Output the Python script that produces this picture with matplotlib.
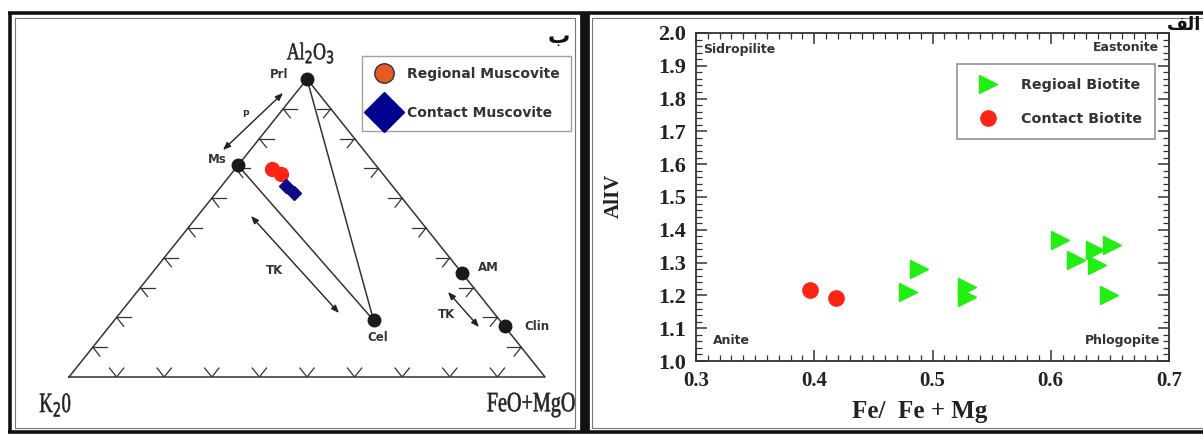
import matplotlib
matplotlib.use("Agg")
import matplotlib.pyplot as plt
from matplotlib.lines import Line2D
from matplotlib.ticker import MultipleLocator
from matplotlib.textpath import TextPath
from matplotlib.patches import PathPatch
from matplotlib.font_manager import FontProperties
from matplotlib.transforms import Affine2D
import numpy as np

# ---------------------------
# Data
# ---------------------------

# ternary (Al2O3 / K2O / FeO+MgO), fractions of Al2O3 and FeO+MgO
mineral_names = ["Prl", "Ms", "Cel", "AM", "Clin"]
mineral_al2o3 = [1.00, 0.71, 0.19, 0.35, 0.17]
mineral_feomgo = [0.00, 0.00, 0.545, 0.65, 0.83]

regional_musc_al2o3 = [0.698, 0.681]
regional_musc_feomgo = [0.077, 0.105]
contact_musc_al2o3 = [0.641, 0.617]
contact_musc_feomgo = [0.136, 0.165]

# biotite classification  (Fe/(Fe+Mg) vs AlIV)
regional_bt_fe = [0.489, 0.479, 0.529, 0.529, 0.608, 0.621, 0.637, 0.652, 0.639, 0.649]
regional_bt_aliv = [1.280, 1.210, 1.226, 1.195, 1.369, 1.308, 1.338, 1.354, 1.293, 1.201]
contact_bt_fe = [0.396, 0.418]
contact_bt_aliv = [1.216, 1.192]

x_tick_values = [0.3, 0.4, 0.5, 0.6, 0.7]
x_tick_labels = ["0.3", "0.4", "0.5", "0.6", "0.7"]
y_tick_values = [1.0, 1.1, 1.2, 1.3, 1.4, 1.5, 1.6, 1.7, 1.8, 1.9, 2.0]
y_tick_labels = ["1.0", "1.1", "1.2", "1.3", "1.4", "1.5", "1.6", "1.7", "1.8", "1.9", "2.0"]


def tern(al, fm):
    """ternary -> cartesian (base 0..1, height 0..1)"""
    al = np.asarray(al, dtype=float)
    fm = np.asarray(fm, dtype=float)
    return fm + al / 2.0, al


W, H = 1203, 436
fig = plt.figure(figsize=(W / 100, H / 100), dpi=100)
fig.patch.set_facecolor("white")


def px_box(x0, y0, x1, y1):
    return [x0 / W, (H - y1) / H, (x1 - x0) / W, (y1 - y0) / H]


# ---- background axes in pixel units, for frames / annotations ----
bg = fig.add_axes([0, 0, 1, 1], zorder=0)
bg.set_xlim(0, W)
bg.set_ylim(H, 0)
bg.axis("off")


def condensed_text(x, y, s, size_px, sx=0.72, color="#222222"):
    """narrow serif label (the original uses a condensed face)"""
    tp = TextPath((0, 0), s, size=size_px, prop=FontProperties(family="Liberation Serif"))
    bb = tp.get_extents()
    tr = (Affine2D().translate(-(bb.x0 + bb.x1) / 2, -(bb.y0 + bb.y1) / 2)
          .scale(sx, -1).translate(x, y))
    bg.add_patch(PathPatch(tr.transform_path(tp), facecolor=color, edgecolor=color, lw=0.4))


dark = "#111111"
bg.plot([8, W], [13, 13], color=dark, lw=2.6, solid_capstyle="butt")
bg.plot([8, W], [432, 432], color=dark, lw=2.6, solid_capstyle="butt")
bg.plot([10, 10], [13, 432], color=dark, lw=2.6, solid_capstyle="butt")
bg.plot([585, 585], [13, 432], color=dark, lw=7.0, solid_capstyle="butt")
# thin inner frames
bg.plot([15, 575, 575, 15, 15], [18, 18, 428, 428, 18], color="#777777", lw=0.8)
bg.plot([W, 592, 592, W], [18, 18, 428, 428], color="#777777", lw=0.8)

sans = ["DejaVu Sans"]

# ---------------------------
# Left panel: ternary
# ---------------------------
ax_t = fig.add_axes(px_box(69, 79, 545, 377), zorder=1)
ax_t.set_xlim(0, 1)
ax_t.set_ylim(0, 1)
ax_t.axis("off")
ax_t.patch.set_alpha(0)

line_c = "#333333"
tx, ty = tern([0, 1, 0, 0], [0, 0, 1, 0])
ax_t.plot(tx, ty, color=line_c, lw=1.1, clip_on=False)

# tie lines Ms-Cel and Prl-Cel
ms = mineral_names.index("Ms")
cel = mineral_names.index("Cel")
prl = mineral_names.index("Prl")
for i, j in [(ms, cel), (prl, cel)]:
    lx, ly = tern([mineral_al2o3[i], mineral_al2o3[j]], [mineral_feomgo[i], mineral_feomgo[j]])
    ax_t.plot(lx, ly, color=line_c, lw=1.1)

# chevron ticks every 10 %
d = 0.03
for t in np.arange(0.1, 0.95, 0.1):
    # bottom edge
    for a2, f2 in [(d, t), (d, t - d)]:
        px, py = tern([a2, 0], [f2, t])
        ax_t.plot(px, py, color=line_c, lw=0.9)
    # left edge
    for a2, f2 in [(t, d), (t - d, d)]:
        px, py = tern([a2, t], [f2, 0])
        ax_t.plot(px, py, color=line_c, lw=0.9)
    # right edge
    for a2, f2 in [(t, 1 - t - d), (t - d, 1 - t)]:
        px, py = tern([a2, t], [f2, 1 - t])
        ax_t.plot(px, py, color=line_c, lw=0.9)

mx, my = tern(mineral_al2o3, mineral_feomgo)
ax_t.plot(mx, my, "o", color="#1a1a1a", markersize=9, clip_on=False, zorder=4)
label_offsets = {"Prl": (-20, 3), "Ms": (-15, 4), "Cel": (3, -12), "AM": (19, 4), "Clin": (23, 0)}
for name, x, y in zip(mineral_names, mx, my):
    ax_t.annotate(name, (x, y), xytext=label_offsets[name], textcoords="offset points",
                  ha="center", va="center", fontsize=8.5, fontweight="bold",
                  color="#333333", family=sans)

rx, ry = tern(regional_musc_al2o3, regional_musc_feomgo)
ax_t.plot(rx, ry, "o", color="#ff2415", markersize=10, zorder=5)
cx, cy = tern(contact_musc_al2o3, contact_musc_feomgo)
ax_t.plot(cx, cy, "D", color="#0b0b8a", markersize=7, zorder=5)

# corner labels
condensed_text(310, 53, "Al$_2$O$_3$", 24, sx=0.74)
condensed_text(55, 405, "K$_2$0", 28, sx=0.66)
condensed_text(531, 405, "FeO+MgO", 28, sx=0.72)

# reaction arrows
arr = dict(arrowstyle="<|-|>,head_length=0.45,head_width=0.18", color="#222222", lw=1.0,
           shrinkA=0, shrinkB=0)
bg.annotate("", xy=(283, 93), xytext=(223, 150), arrowprops=arr)
bg.annotate("", xy=(339, 313), xytext=(251, 216), arrowprops=arr)
bg.annotate("", xy=(479, 327), xytext=(448, 292), arrowprops=arr)
bg.text(245, 114, "P", ha="center", va="center", fontsize=6.5, fontweight="bold",
        color="#333333", family=sans)
bg.text(274, 270, "TK", ha="center", va="center", fontsize=8.5, fontweight="bold",
        color="#333333", family=sans)
bg.text(446, 314, "TK", ha="center", va="center", fontsize=8.5, fontweight="bold",
        color="#333333", family=sans)

bg.text(559, 37, "\u0628", ha="center", va="center", fontsize=16, fontweight="bold",
        family=sans, color="#111111")

leg_handles = [
    Line2D([], [], ls="none", marker="o", markersize=14, markerfacecolor="#e65a25",
           markeredgecolor="#333333", markeredgewidth=1.0),
    Line2D([], [], ls="none", marker="D", markersize=20, color="#00008f"),
]
leg1 = ax_t.legend(leg_handles, ["Regional Muscovite", "Contact Muscovite"],
                   loc="upper left", bbox_to_anchor=(362, 56), bbox_transform=bg.transData,
                   borderaxespad=0, frameon=True, fancybox=False, borderpad=0.8,
                   labelspacing=1.8, handlelength=1.6, handletextpad=0.85,
                   prop={"family": sans, "weight": "bold", "size": 10})
leg1.get_frame().set_edgecolor("#888888")
leg1.get_frame().set_linewidth(1.0)
for txt in leg1.get_texts():
    txt.set_color("#333333")

# ---------------------------
# Right panel: biotite AlIV vs Fe/(Fe+Mg)
# ---------------------------
ax = fig.add_axes(px_box(696, 33, 1169, 361), zorder=1)
ax.patch.set_alpha(0)
ax.plot(regional_bt_fe, regional_bt_aliv, ">", color="#22ee11", markersize=13,
        ls="none", label="Regioal Biotite", clip_on=False)
ax.plot(contact_bt_fe, contact_bt_aliv, "o", color="#ff2416", markersize=11,
        ls="none", label="Contact Biotite", clip_on=False)

ax.set_xlim(0.3, 0.7)
ax.set_ylim(1.0, 2.0)
ax.set_xticks(x_tick_values)
ax.set_xticklabels(x_tick_labels)
ax.set_yticks(y_tick_values)
ax.set_yticklabels(y_tick_labels)
ax.xaxis.set_minor_locator(MultipleLocator(0.01))
ax.yaxis.set_minor_locator(MultipleLocator(0.02))
ax.tick_params(which="both", direction="in", top=True, right=True, color="#333333")
ax.tick_params(which="major", length=8, width=1.1, pad=7)
ax.tick_params(which="minor", length=4, width=0.9)
for lab in ax.get_xticklabels():
    lab.set_fontfamily("Liberation Serif")
    lab.set_fontweight("bold")
    lab.set_fontsize(15)
    lab.set_color("#222222")
for lab in ax.get_yticklabels():
    lab.set_fontfamily("Liberation Serif")
    lab.set_fontweight("bold")
    lab.set_fontsize(16)
    lab.set_color("#222222")
for sp in ax.spines.values():
    sp.set_color("#333333")
    sp.set_linewidth(1.3)

corner_kw = dict(fontsize=9, fontweight="bold", color="#333333",
                 family=sans, transform=ax.transAxes, va="center")
ax.text(0.015, 0.951, "Sidropilite", ha="left", **corner_kw)
ax.text(0.978, 0.957, "Eastonite", ha="right", **corner_kw)
ax.text(0.036, 0.064, "Anite", ha="left", **corner_kw)
ax.text(0.981, 0.064, "Phlogopite", ha="right", **corner_kw)

bg.text(614, 196, "AlIV", rotation=90, ha="center", va="center", fontsize=15,
        fontweight="bold", family="Liberation Serif", color="#222222")
bg.text(920, 411, "Fe/  Fe + Mg", ha="center", va="center", fontsize=18,
        fontweight="bold", family="Liberation Serif", color="#222222")

bg.text(1201, 25, "\uFED2\uFEDF\u0627", ha="right", va="center", fontsize=13,
        fontweight="bold", family=sans, color="#111111")

leg2 = ax.legend(loc="upper left", bbox_to_anchor=(957, 64), bbox_transform=bg.transData,
                 borderaxespad=0, frameon=True, fancybox=False, borderpad=0.95,
                 labelspacing=1.4, handlelength=2.4, handletextpad=1.1,
                 prop={"family": sans, "weight": "bold", "size": 10.3})
leg2.get_frame().set_edgecolor("#777777")
leg2.get_frame().set_linewidth(1.2)
for txt in leg2.get_texts():
    txt.set_color("#333333")

fig.savefig("out.png", dpi=100)
